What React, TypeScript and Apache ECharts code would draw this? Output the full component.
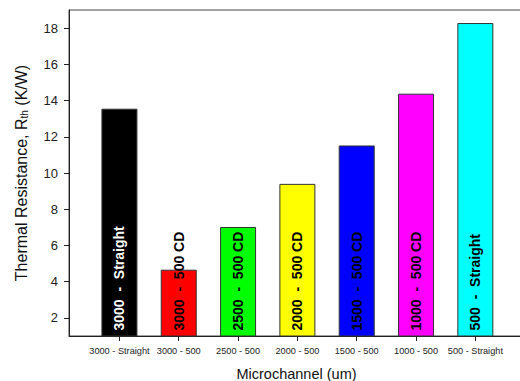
import React, { useEffect, useRef } from "react";
import * as echarts from "echarts";

const categories = ["3000 - Straight", "3000 - 500", "2500 - 500", "2000 - 500", "1500 - 500", "1000 - 500", "500 - Straight"];
const barLabels = ["3000 - Straight", "3000 - 500 CD", "2500 - 500 CD", "2000 - 500 CD", "1500 - 500 CD", "1000 - 500 CD", "500 - Straight"];
const values = [13.55, 4.66, 7.02, 9.4, 11.52, 14.38, 18.28];
const colors = ["#000000", "#ff0000", "#00ff00", "#ffff00", "#0000ff", "#ff00ff", "#00ffff"];
const labelColors = ["#ffffff", "#000000", "#000000", "#000000", "#000000", "#000000", "#000000"];
const yTicks = [2, 4, 6, 8, 10, 12, 14, 16, 18];
const xPositions = [0, 1, 2, 3, 4, 5, 6];

const widen = (s: string) => s.replace(/ - /g, "\u00a0\u00a0-\u00a0\u00a0");

export default function App() {
  const ref = useRef<HTMLDivElement>(null);
  useEffect(() => {
    if (!ref.current) return;
    const chart = echarts.init(ref.current, null, { renderer: "svg" });
    const font = "Liberation Sans, Arial, sans-serif";
    chart.setOption({
      animation: false,
      textStyle: { fontFamily: font },
      grid: {
        left: 69, right: -4, top: 10, bottom: 45,
        show: true, borderColor: "#444", borderWidth: 1,
        outerBoundsMode: "none", containLabel: false,
      },
      xAxis: {
        type: "value",
        min: -0.85,
        max: 6.82,
        splitLine: { show: false },
        axisLine: { show: true, onZero: false, lineStyle: { color: "#222" } },
        axisTick: { show: true, customValues: xPositions, length: 5, lineStyle: { color: "#222" } },
        axisLabel: {
          customValues: xPositions,
          formatter: (v: number) => categories[Math.round(v)] ?? "",
          fontSize: 9.2,
          color: "#222",
          margin: 10,
          fontFamily: font,
        },
        name: "Microchannel (um)",
        nameLocation: "middle",
        nameGap: 30,
        nameTextStyle: { fontSize: 14.5, color: "#111", fontFamily: font },
      },
      yAxis: {
        type: "value",
        min: 1,
        max: 19,
        splitLine: { show: false },
        axisLine: { show: true, onZero: false, lineStyle: { color: "#222" } },
        axisTick: { show: true, customValues: yTicks, length: 5, inside: false, lineStyle: { color: "#222" } },
        axisLabel: { customValues: yTicks, fontSize: 13, color: "#222", margin: 11, fontFamily: font },
        name: "{a|Thermal Resistance, R}{sub|th}{a| (K/W)}",
        nameLocation: "middle",
        nameGap: 40,
        nameTextStyle: {
          fontSize: 16,
          color: "#111",
          fontFamily: font,
          rich: {
            a: { fontSize: 16, lineHeight: 16, verticalAlign: "top", fontFamily: font, color: "#111" },
            sub: { fontSize: 10, lineHeight: 10, fontFamily: font, color: "#111", verticalAlign: "bottom", padding: [9, 0, 0, 0] },
          },
        },
      },
      series: [
        {
          type: "bar",
          barWidth: 36,
          data: values.map((v, i) => ({
            value: [xPositions[i], v],
            itemStyle: { color: colors[i], borderColor: "#333", borderWidth: 1 },
            label: {
              show: true,
              formatter: widen(barLabels[i]),
              position: "insideBottom",
              rotate: 90,
              align: "left",
              verticalAlign: "middle",
              distance: 6,
              fontSize: 14,
              fontWeight: "bold",
              color: labelColors[i],
              fontFamily: font,
            },
          })),
        },
      ],
    });
    return () => chart.dispose();
  }, []);
  return <div ref={ref} style={{ width: 520, height: 381, position: "absolute", left: 0, top: 0 }} />;
}
